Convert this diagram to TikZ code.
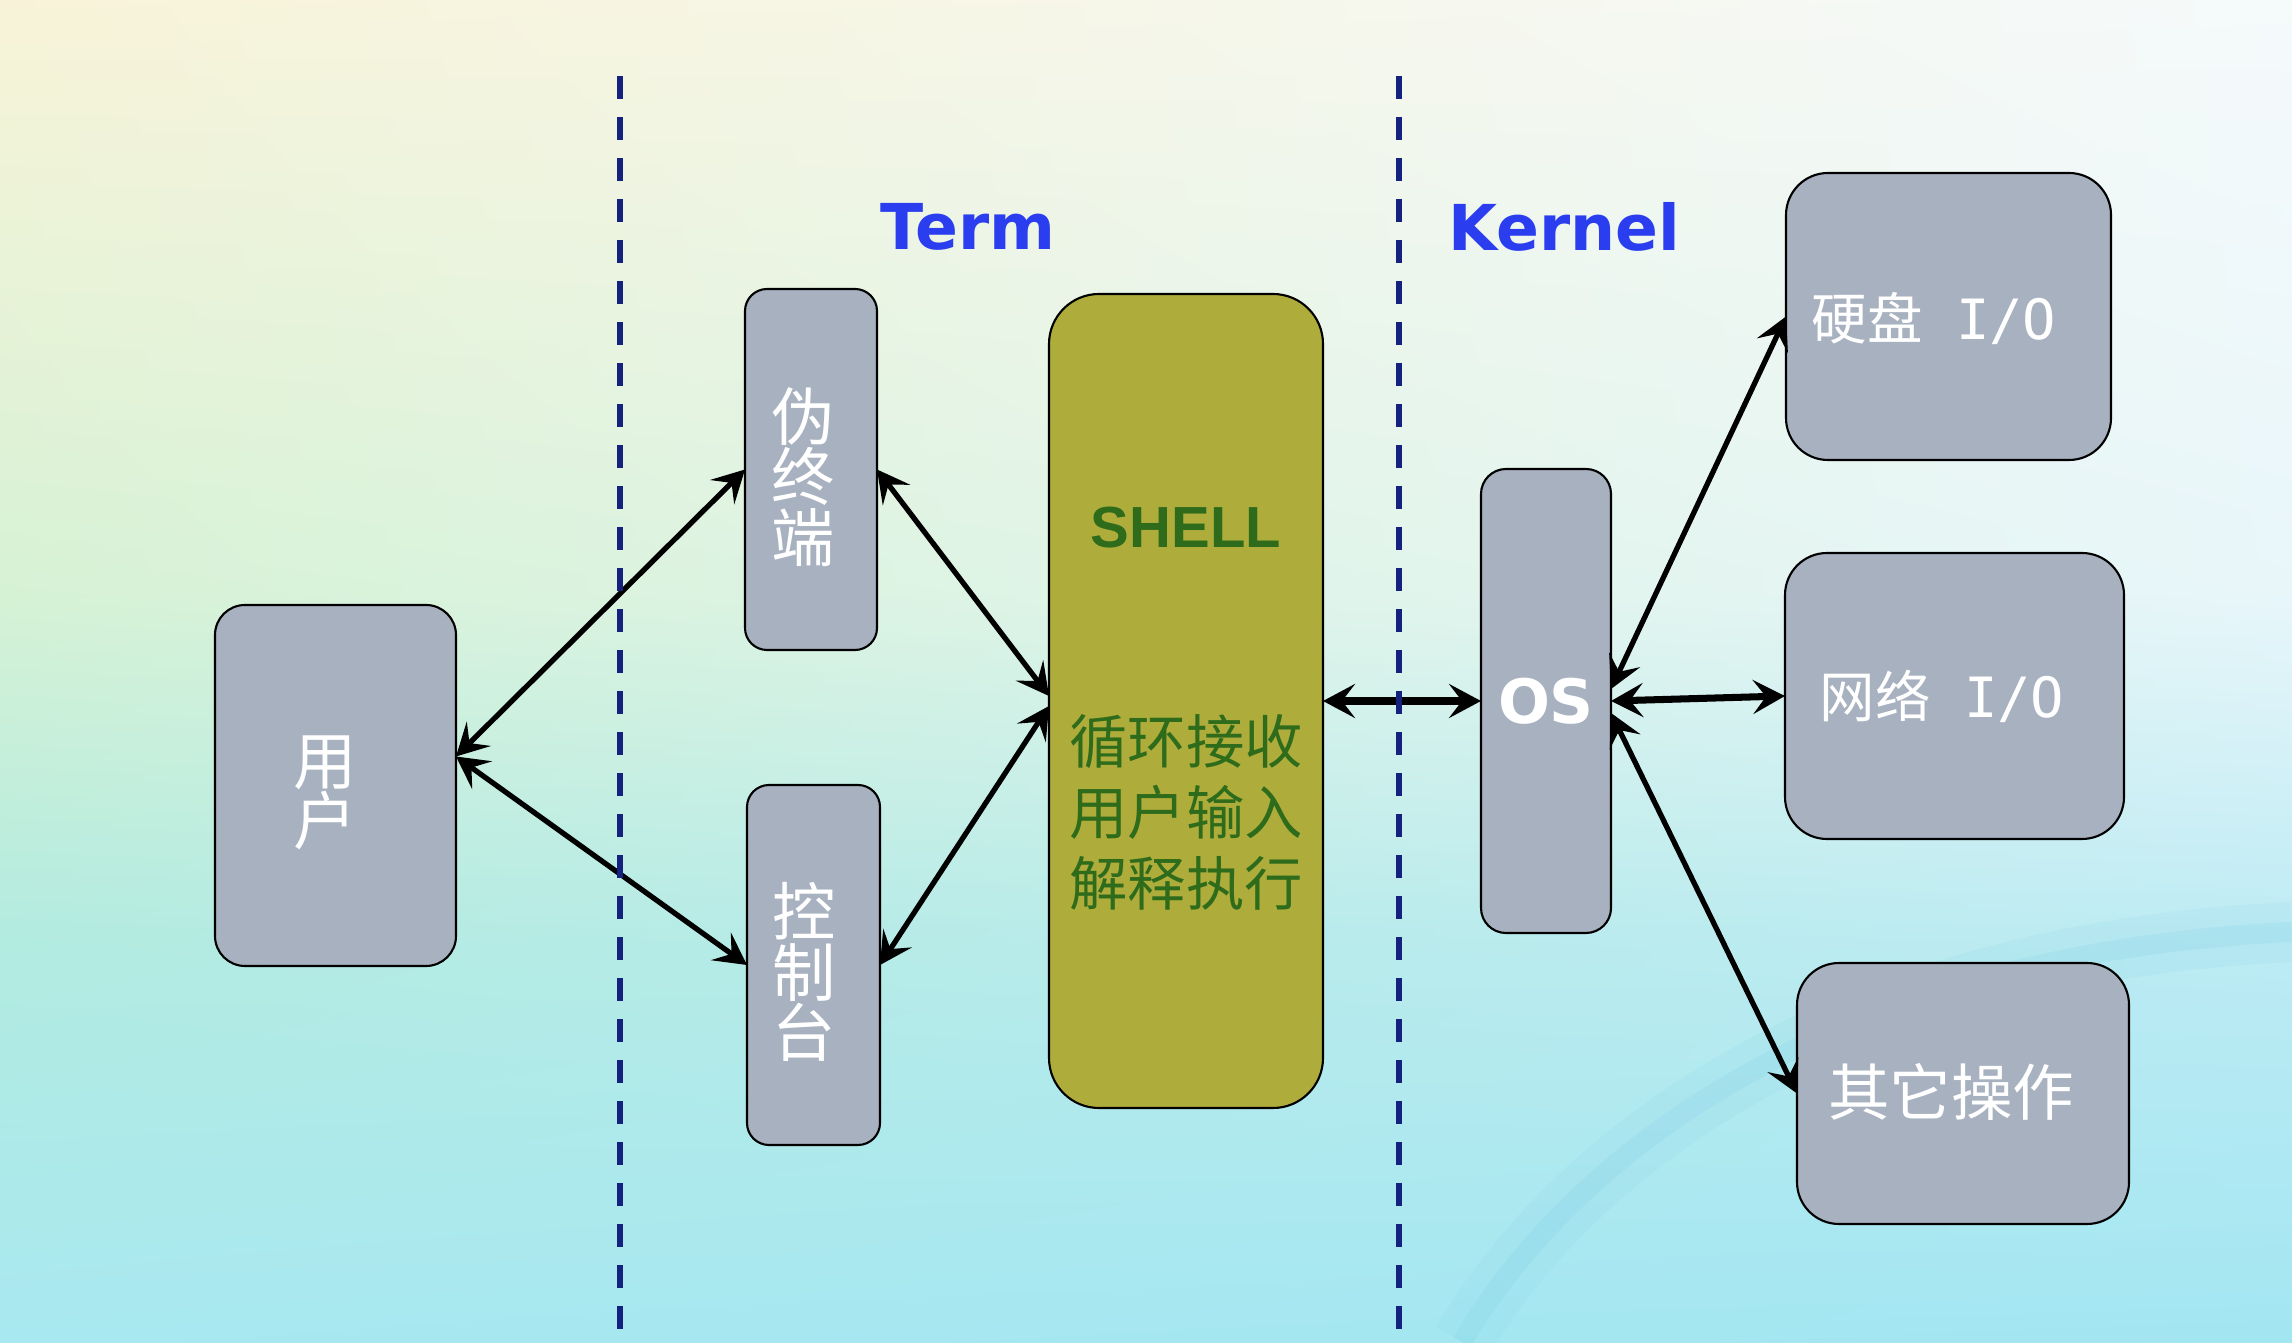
\documentclass[tikz,border=0pt]{standalone}
\usepackage{fontspec}
\setmainfont{DejaVu Sans}
\newfontfamily\cjk{Noto Sans CJK SC}
\newfontfamily\arialsans{Liberation Sans}
\newfontfamily\iofont{DejaVu Sans Mono}
\usetikzlibrary{arrows.meta,shadings}

\definecolor{boxgray}{HTML}{A7B1BF}
\definecolor{shellolive}{HTML}{AEAD3B}
\definecolor{shellgreen}{HTML}{2E6B1B}
\definecolor{headblue}{HTML}{2A3EF0}
\definecolor{sepnavy}{HTML}{14217F}
\definecolor{wmcyan}{HTML}{7FCFE4}
% background tones
\definecolor{bgtl}{HTML}{F8F3D8}
\definecolor{bgtr}{HTML}{F5FAFB}
\definecolor{bgml}{HTML}{D6F2D5}
\definecolor{bgmr}{HTML}{E8F6FA}
\definecolor{bgll}{HTML}{B2EBE0}
\definecolor{bglr}{HTML}{BDEBF4}
\definecolor{bgbl}{HTML}{A8E8F0}
\definecolor{bgbr}{HTML}{A2E6F2}

\tikzset{
  box/.style={draw=black, line width=0.6pt, fill=boxgray, inner sep=0pt, outer sep=0pt},
  boxtext/.style={text=white, inner sep=0pt},
  vertcjk/.style={boxtext, font={\cjk\fontsize{18}{17.2}\selectfont\lineskiplimit=-6pt}, align=center},
  iolabel/.style={boxtext, font=\cjk\fontsize{15.8}{18}\selectfont},
  link/.style={<->, >={Stealth[length=3.2mm,width=3.4mm,inset=1.3mm]}, line width=1.5pt},
  sepline/.style={draw=sepnavy, line width=1.6pt, dash pattern=on 2.3mm off 1.8mm},
  heading/.style={font=\bfseries\fontsize{18}{20}\selectfont, text=headblue, inner sep=0pt},
}

\begin{document}
\begin{tikzpicture}
	\useasboundingbox (0,0) rectangle (22.92,13.42);
	% background
	\shade[upper left=bgtl, upper right=bgtr, lower left=bgml, lower right=bgmr] (0,7.5) rectangle (22.92,13.42);
	\shade[upper left=bgml, upper right=bgmr, lower left=bgll, lower right=bglr] (0,4.0) rectangle (22.92,7.5);
	\shade[upper left=bgll, upper right=bglr, lower left=bgbl, lower right=bgbr] (0,0) rectangle (22.92,4.0);
	% watermark swirl
	\draw[wmcyan, opacity=0.12, line width=6mm] (14.62,0) .. controls (15.8,2.0) and (18.5,3.9) .. (22.92,4.1);
	\draw[wmcyan, opacity=0.2, line width=2mm] (14.62,0) .. controls (15.8,2.0) and (18.5,3.9) .. (22.92,4.1);
	% headings
	\node[heading] (term) at (9.68,11.15) {Term};
	\node[heading] (kernel) at (15.64,11.15) {Kernel};
	% boxes
	\node[box, rounded corners=3mm, minimum width=2.41cm, minimum height=3.61cm] (user) at (3.355,5.565) {};
	\node[box, rounded corners=2.2mm, minimum width=1.32cm, minimum height=3.61cm] (pty) at (8.11,8.725) {};
	\node[box, rounded corners=2.2mm, minimum width=1.33cm, minimum height=3.60cm] (console) at (8.135,3.77) {};
	\node[box, fill=shellolive, rounded corners=5mm, minimum width=2.74cm, minimum height=8.14cm] (shell) at (11.86,6.41) {};
	\node[box, rounded corners=2.5mm, minimum width=1.30cm, minimum height=4.64cm, boxtext, font=\bfseries\fontsize{17.4}{20}\selectfont] (os) at (15.46,6.41) {OS};
	\node[box, rounded corners=4.2mm, minimum width=3.25cm, minimum height=2.87cm] (disk) at (19.485,10.255) {};
	\node[box, rounded corners=4.2mm, minimum width=3.39cm, minimum height=2.86cm] (net) at (19.545,6.46) {};
	\node[box, rounded corners=4.2mm, minimum width=3.32cm, minimum height=2.61cm] (other) at (19.63,2.485) {};
	% box texts
	\node[vertcjk] (usertext) at (3.25,5.49) {用\\户};
	\node[vertcjk] (ptytext) at (8.03,8.65) {伪\\终\\端};
	\node[vertcjk] (consoletext) at (8.04,3.70) {控\\制\\台};
	\node[font=\arialsans\bfseries\fontsize{16.5}{18}\selectfont, text=shellgreen, inner sep=0pt] (shelltitle) at ([yshift=17.3mm]shell.center) {SHELL};
	\node[font=\cjk\fontsize{16.6}{20.2}\selectfont, text=shellgreen, align=center, inner sep=0pt] (shellbody) at ([yshift=-11.1mm]shell.center) {循环接收\\用户输入\\解释执行};
	\node[iolabel] (disktext) at (19.34,10.24) {硬盘{\iofont\ I/O}};
	\node[iolabel] (nettext) at (19.42,6.46) {网络{\iofont\ I/O}};
	\node[boxtext, font=\cjk\fontsize{17.5}{20}\selectfont] (othertext) at (19.51,2.50) {其它操作};
	% arrows
	\draw[link] ([yshift=2.9mm]user.east) -- (pty.west);
	\draw[link] ([yshift=2.9mm]user.east) -- (console.west);
	\draw[link] (pty.east) -- ([yshift=0.5mm]shell.west);
	\draw[link] (console.east) -- ([yshift=-0.5mm]shell.west);
	\draw[link, line width=2pt] (shell.east) -- (os.west);
	\foreach \dst/\dy/\lw in {disk/1.2mm/1.5pt, net/0mm/2pt, other/-1.2mm/1.5pt}
		\draw[link, line width=\lw] ([yshift=\dy]os.east) -- (\dst.west);
	% separators
	\foreach \xs in {6.20,13.99}
		\draw[sepline] (\xs,12.66) -- (\xs,0);
\end{tikzpicture}
\end{document}
